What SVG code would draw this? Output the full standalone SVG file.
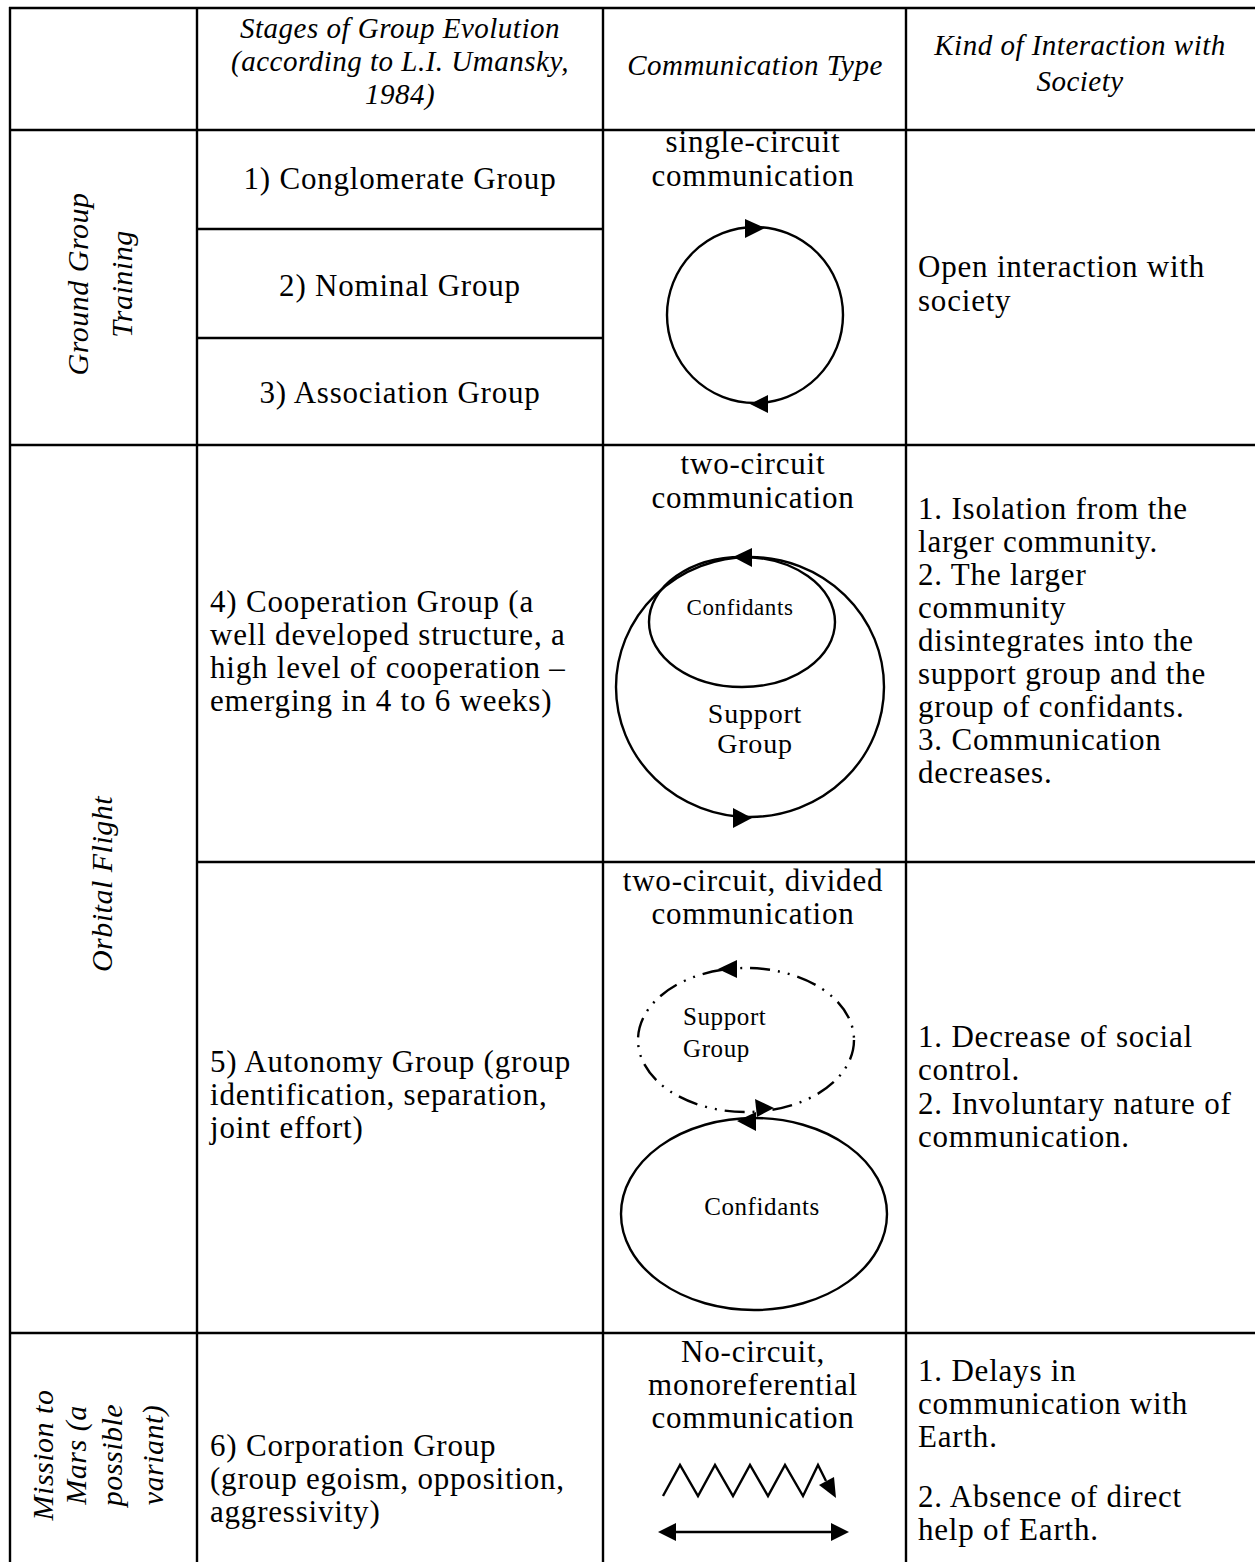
<svg xmlns="http://www.w3.org/2000/svg" width="1255" height="1562" viewBox="0 0 1255 1562">
<style>
.t{font-family:"Liberation Serif","Times New Roman",serif;font-size:31px;letter-spacing:0.8px;fill:#000}
.h{font-family:"Liberation Serif","Times New Roman",serif;font-size:29px;font-style:italic;letter-spacing:0.5px;fill:#000}
.v{font-family:"Liberation Serif","Times New Roman",serif;font-size:30px;font-style:italic;letter-spacing:0.5px;fill:#000}
.s{font-family:"Liberation Serif","Times New Roman",serif;font-size:25px;letter-spacing:0.6px;fill:#000}
.c{text-anchor:middle}
.g{stroke:#000;stroke-width:2.4;fill:none}
.d{stroke:#000;stroke-width:2.4;fill:none}
.a{fill:#000;stroke:none}
</style>
<rect width="1255" height="1562" fill="#fff"/>
<g id="grid" class="g">
<line x1="9" y1="8" x2="1255" y2="8"/>
<line x1="9" y1="130" x2="1255" y2="130"/>
<line x1="9" y1="445" x2="1255" y2="445"/>
<line x1="197" y1="862" x2="1255" y2="862"/>
<line x1="9" y1="1333" x2="1255" y2="1333"/>
<line x1="197" y1="229" x2="603" y2="229"/>
<line x1="197" y1="338" x2="603" y2="338"/>
<line x1="10" y1="7" x2="10" y2="1562"/>
<line x1="197" y1="7" x2="197" y2="1562"/>
<line x1="603" y1="7" x2="603" y2="1562"/>
<line x1="906" y1="7" x2="906" y2="1562"/>
</g>
<g id="header">
<text class="h c" x="400" y="38">Stages of Group Evolution</text>
<text class="h c" x="400" y="71">(according to L.I. Umansky,</text>
<text class="h c" x="400" y="104">1984)</text>
<text class="h c" x="755" y="75">Communication Type</text>
<text class="h c" x="1080" y="55">Kind of Interaction with</text>
<text class="h c" x="1080" y="91">Society</text>
</g>
<g id="phase-ground">
<text class="v c" transform="translate(88,284) rotate(-90)">Ground Group</text>
<text class="v c" transform="translate(132,284) rotate(-90)">Training</text>
</g>
<g id="stage-1"><text class="t c" x="400" y="189">1) Conglomerate Group</text></g>
<g id="stage-2"><text class="t c" x="400" y="296">2) Nominal Group</text></g>
<g id="stage-3"><text class="t c" x="400" y="403">3) Association Group</text></g>
<g id="comm-single">
<text class="t c" x="753" y="152">single-circuit</text>
<text class="t c" x="753" y="186">communication</text>
<circle class="d" cx="755" cy="315" r="88"/>
<polygon class="a" points="745,219 765,228 745,238"/>
<polygon class="a" points="750,404 768,395 768,413"/>
</g>
<g id="society-ground">
<text class="t" x="918" y="277">Open interaction with</text>
<text class="t" x="918" y="311">society</text>
</g>
<g id="phase-orbital">
<text class="v c" transform="translate(112,884) rotate(-90)">Orbital Flight</text>
</g>
<g id="stage-4">
<text class="t" x="210" y="612">4) Cooperation Group (a</text>
<text class="t" x="210" y="645">well developed structure, a</text>
<text class="t" x="210" y="678">high level of cooperation –</text>
<text class="t" x="210" y="711">emerging in 4 to 6 weeks)</text>
</g>
<g id="comm-two">
<text class="t c" x="753" y="474">two-circuit</text>
<text class="t c" x="753" y="508">communication</text>
<ellipse class="d" cx="750" cy="687" rx="134" ry="130"/>
<ellipse class="d" cx="742" cy="622" rx="93" ry="65"/>
<text class="s c" x="740" y="615" style="font-size:23px">Confidants</text>
<text class="t c" x="755" y="723" style="font-size:28px">Support</text>
<text class="t c" x="755" y="753" style="font-size:28px">Group</text>
<polygon class="a" points="733,557 752,548 752,567"/>
<polygon class="a" points="752,818 733,808 733,828"/>
</g>
<g id="society-orbital-4">
<text class="t" x="918" y="519">1. Isolation from the</text>
<text class="t" x="918" y="552">larger community.</text>
<text class="t" x="918" y="585">2. The larger</text>
<text class="t" x="918" y="618">community</text>
<text class="t" x="918" y="651">disintegrates into the</text>
<text class="t" x="918" y="684">support group and the</text>
<text class="t" x="918" y="717">group of confidants.</text>
<text class="t" x="918" y="750">3. Communication</text>
<text class="t" x="918" y="783">decreases.</text>
</g>
<g id="stage-5">
<text class="t" x="210" y="1072">5) Autonomy Group (group</text>
<text class="t" x="210" y="1105">identification, separation,</text>
<text class="t" x="210" y="1138">joint effort)</text>
</g>
<g id="comm-divided">
<text class="t c" x="753" y="891">two-circuit, divided</text>
<text class="t c" x="753" y="924">communication</text>
<ellipse cx="746" cy="1040" rx="108" ry="72" fill="none" stroke="#000" stroke-width="2.4" stroke-dasharray="20 8 2 8 2 8"/>
<text class="s" x="683" y="1025">Support</text>
<text class="s" x="683" y="1057">Group</text>
<ellipse class="d" cx="754" cy="1214" rx="133" ry="96"/>
<text class="s c" x="762" y="1215">Confidants</text>
<polygon class="a" points="718,969 737,960 737,978"/>
<polygon class="a" points="774,1108 755,1099 757,1117"/>
<polygon class="a" points="737,1121 756,1112 756,1131"/>
</g>
<g id="society-orbital-5">
<text class="t" x="918" y="1047">1. Decrease of social</text>
<text class="t" x="918" y="1080">control.</text>
<text class="t" x="918" y="1114">2. Involuntary nature of</text>
<text class="t" x="918" y="1147">communication.</text>
</g>
<g id="phase-mars">
<text class="v c" transform="translate(53,1455) rotate(-90)">Mission to</text>
<text class="v c" transform="translate(86,1455) rotate(-90)">Mars (a</text>
<text class="v c" transform="translate(122,1455) rotate(-90)">possible</text>
<text class="v c" transform="translate(163,1455) rotate(-90)">variant)</text>
</g>
<g id="stage-6">
<text class="t" x="210" y="1456">6) Corporation Group</text>
<text class="t" x="210" y="1489">(group egoism, opposition,</text>
<text class="t" x="210" y="1522">aggressivity)</text>
</g>
<g id="comm-none">
<text class="t c" x="753" y="1362">No-circuit,</text>
<text class="t c" x="753" y="1395">monoreferential</text>
<text class="t c" x="753" y="1428">communication</text>
<polyline class="d" points="663,1496 680,1465 698,1496 715,1465 733,1496 750,1465 768,1496 785,1465 803,1496 818,1465 826,1481"/>
<polygon class="a" points="836,1498 819,1485 834,1477"/>
<line class="d" x1="672" y1="1532" x2="835" y2="1532"/>
<polygon class="a" points="658,1532 676,1523 676,1541"/>
<polygon class="a" points="849,1532 831,1523 831,1541"/>
</g>
<g id="society-mars">
<text class="t" x="918" y="1381">1. Delays in</text>
<text class="t" x="918" y="1414">communication with</text>
<text class="t" x="918" y="1447">Earth.</text>
<text class="t" x="918" y="1507">2. Absence of direct</text>
<text class="t" x="918" y="1540">help of Earth.</text>
</g>
</svg>
